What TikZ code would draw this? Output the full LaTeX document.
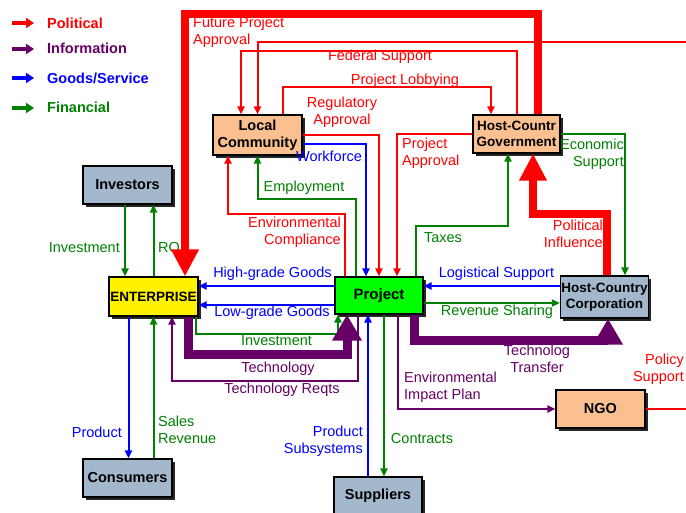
\documentclass[tikz,border=0pt]{standalone}
\usepackage{xcolor}
\usepackage{fontspec}
\setmainfont{Liberation Sans}
\usepackage{tikz}
\usetikzlibrary{positioning}
\usetikzlibrary{arrows.meta,shadows}

\definecolor{polred}{RGB}{255,0,0}
\definecolor{infpurple}{RGB}{102,0,102}
\definecolor{goodblue}{RGB}{0,0,255}
\definecolor{fingreen}{RGB}{0,128,0}
\definecolor{peach}{RGB}{250,192,144}
\definecolor{slate}{RGB}{163,184,204}

\newcommand{\lblfont}{\fontsize{14.5}{17}\selectfont}
\newcommand{\smlfont}{\fontsize{13.5}{16}\selectfont}

\begin{document}
\begin{tikzpicture}
                [x=1pt, y=-1pt,
                 box/.style = {draw, line width=1.2pt, minimum width=89pt, minimum height=38pt, inner sep=1pt, align=center, font=\bfseries\lblfont, drop shadow={shadow xshift=2.5pt, shadow yshift=-2.5pt, fill=black, opacity=0.85}},
                 lbl/.style = {inner sep=0pt, font=\lblfont},
                 pol/.style = {draw=polred, line width=2pt, -{Triangle[length=8pt,width=7pt]}},
                 info/.style = {draw=infpurple, line width=2pt, -{Triangle[length=8pt,width=7pt]}},
                 goods/.style = {draw=goodblue, line width=2pt, -{Triangle[length=8pt,width=7pt]}},
                 fin/.style = {draw=fingreen, line width=2pt, -{Triangle[length=8pt,width=7pt]}},
                 polbig/.style = {draw=polred, line width=8pt, -{Triangle[length=27pt,width=26pt]}},
                 infobig/.style = {draw=infpurple, line width=9pt, -{Triangle[length=26pt,width=28pt]}},
                 legarrow/.style = {line width=4.5pt, -{Triangle[length=8pt,width=10pt]}}]
                \useasboundingbox (0,0) rectangle (686,512);
                % Legend
                \coordinate (k1) at (12,23);
                \coordinate (k2) at (12,49);
                \coordinate (k3) at (12,78);
                \coordinate (k4) at (12,108);
                \draw[legarrow, polred] (k1) -- ++(22,0);
                \draw[legarrow, infpurple] (k2) -- ++(22,0);
                \draw[legarrow, goodblue] (k3) -- ++(22,0);
                \draw[legarrow, fingreen] (k4) -- ++(22,0);
                \node[lbl, font=\bfseries\lblfont, text=polred, anchor=west] (lpol) at (47,23) {Political};
                \node[lbl, font=\bfseries\lblfont, text=infpurple, anchor=west] (linf) at (47,48) {Information};
                \node[lbl, font=\bfseries\lblfont, text=goodblue, anchor=west] (lgds) at (47,78) {Goods/Service};
                \node[lbl, font=\bfseries\lblfont, text=fingreen, anchor=west] (lfin) at (47,107) {Financial};
                % Boxes
                \node[box, fill=peach, minimum height=40pt] (lc) at (257.5,135) {Local\\Community};
                \node[box, fill=peach, minimum width=87pt, font=\bfseries\smlfont] (hg) at (516.5,134) {Host-Countr\\Government};
                \node[box, fill=slate] (inv) at (127.5,185) {Investors};
                \node[box, fill=yellow, minimum height=39pt, font=\bfseries\smlfont] (ent) at (153.5,296.5) {ENTERPRISE};
                \node[box, fill=green, minimum width=88pt, minimum height=37pt, font=\bfseries\fontsize{15}{17}\selectfont] (proj) at (379,295.5) {Project};
                \node[box, fill=slate, minimum width=87pt, minimum height=42pt, font=\bfseries\smlfont] (hcc) at (604.5,297) {Host-Country\\Corporation};
                \node[box, fill=peach] (ngo) at (600.5,409) {NGO};
                \node[box, fill=slate] (cons) at (127.5,478) {Consumers};
                \node[box, fill=slate, minimum width=88pt] (sup) at (378,496) {Suppliers};
                % Labels
                \node[lbl, text=polred, align=left, anchor=west] (tfpa) at (193,32.5) {Future Project\\Approval};
                \node[lbl, text=polred] (tfs) at (380,57) {Federal Support};
                \node[lbl, text=polred] (tpl) at (405,81) {Project Lobbying};
                \node[lbl, text=polred, align=center] (tra) at (342,112.5) {Regulatory\\Approval};
                \node[lbl, text=polred, align=left, anchor=west] (tpa) at (402,153.5) {Project\\Approval};
                \node[lbl, text=polred, align=right, anchor=east] (tec) at (341,232) {Environmental\\Compliance};
                \node[lbl, text=polred, align=right, anchor=east] (tpi) at (603,234) {Political\\Influence};
                \node[lbl, text=polred, align=right, anchor=east] (tps) at (684,369) {Policy\\Support};
                \node[lbl, text=goodblue] (twf) at (329,156) {Workforce};
                \node[lbl, text=goodblue] (thg) at (272.5,274) {High-grade Goods};
                \node[lbl, text=goodblue] (tlg) at (272,313) {Low-grade Goods};
                \node[lbl, text=goodblue] (tls) at (496.5,274) {Logistical Support};
                \node[lbl, text=goodblue, anchor=east] (tpr) at (122,432) {Product};
                \node[lbl, text=goodblue, align=right, anchor=east] (tpss) at (363,441) {Product\\Subsystems};
                \node[lbl, text=fingreen, anchor=east] (tin) at (120,248) {Investment};
                \node[lbl, text=fingreen, anchor=west] (troi) at (158,248) {ROI};
                \node[lbl, text=fingreen] (tem) at (304,188) {Employment};
                \node[lbl, text=fingreen] (ttx) at (443,238) {Taxes};
                \node[lbl, text=fingreen, align=right, anchor=east] (tes) at (624,154) {Economic\\Support};
                \node[lbl, text=fingreen] (trs) at (497,312) {Revenue Sharing};
                \node[lbl, text=fingreen] (tinv) at (276.5,341) {Investment};
                \node[lbl, text=fingreen, align=left, anchor=west] (tsr) at (158,429.5) {Sales\\Revenue};
                \node[lbl, text=fingreen] (tct) at (422,439) {Contracts};
                \node[lbl, text=infpurple] (tte) at (278,369) {Technology};
                \node[lbl, text=infpurple] (ttr) at (282,390) {Technology Reqts};
                \node[lbl, text=infpurple, align=center] (ttt) at (537,359) {Technolog\\Transfer};
                \node[lbl, text=infpurple, align=left, anchor=west] (teip) at (404,387.5) {Environmental\\Impact Plan};
                % Financial flows
                \draw[fin] ([xshift=-2.5pt]inv.south) -- ([xshift=-2.5pt]inv.south |- ent.north);
                \draw[fin] (ent.north) -- (ent.north |- inv.south);
                \draw[fin] (ent.south |- cons.north) -- (ent.south);
                \draw[fin] ([xshift=42.5pt]ent.south) -- ++(0,17) -| ([xshift=-41pt]proj.south);
                \draw[fin] ([xshift=-23pt]proj.north) -- ++(0,-77) -| (lc.south);
                \draw[fin] ([xshift=37pt]proj.north) -- ++(0,-50) -| ([xshift=-8.5pt]hg.south);
                \draw[fin] (hg.east) -| ([xshift=20.5pt]hcc.north);
                \draw[fin] ([yshift=-7.5pt]proj.east) -- ([yshift=-7.5pt]proj.east -| hcc.west);
                \draw[fin] ([xshift=5pt]proj.south) -- ([xshift=5pt]proj.south |- sup.north);
                % Goods and services
                \draw[goods] ([yshift=9.5pt]proj.west) -- ([yshift=9.5pt]proj.west -| ent.east);
                \draw[goods] ([yshift=-9.5pt]proj.west) -- ([yshift=-9.5pt]proj.west -| ent.east);
                \draw[goods] ([yshift=9.5pt]proj.east -| hcc.west) -- ([yshift=9.5pt]proj.east);
                \draw[goods] ([yshift=-9pt]lc.east) -| ([xshift=-13pt]proj.north);
                \draw[goods] ([xshift=-25pt]ent.south) -- ([xshift=-25pt]ent.south |- cons.north);
                \draw[goods] ([xshift=-10pt]sup.north) -- ([xshift=-10pt]sup.north |- proj.south);
                % Information
                \draw[info] ([xshift=-21pt]proj.south) -- ++(0,66) -| ([xshift=18.5pt]ent.south);
                \draw[info] ([xshift=19pt]proj.south) |- (ngo.west);
                \draw[infobig] ([xshift=34.5pt]ent.south) -- ++(0,38) -| ([xshift=-32pt]proj.south);
                \draw[infobig] ([xshift=35pt]proj.south) -- ++(0,26) -| ([xshift=3.5pt]hcc.south);
                % Political
                \draw[pol] (lc.east) -| (proj.north);
                \draw[pol] (hg.west) -| ([xshift=18pt]proj.north);
                \draw[pol] ([xshift=-34pt]proj.north) -- ++(0,-62) -| ([xshift=-29.5pt]lc.south);
                \draw[pol] ([xshift=25.5pt]lc.north) |- (491,87) -- ([xshift=-25.5pt]hg.north);
                \draw[pol] (hg.north) |- (241,51) -- ([xshift=-16.5pt]lc.north);
                \draw[pol] (ngo.east) -| (700,42) -| (lc.north);
                \draw[polbig] ([xshift=21.5pt]hg.north) |- (185,14) -- ([xshift=31.5pt]ent.north);
                \draw[polbig] ([xshift=2.5pt]hcc.north) -- ++(0,-61) -| ([xshift=16.5pt]hg.south);
            \end{tikzpicture}
\end{document}
